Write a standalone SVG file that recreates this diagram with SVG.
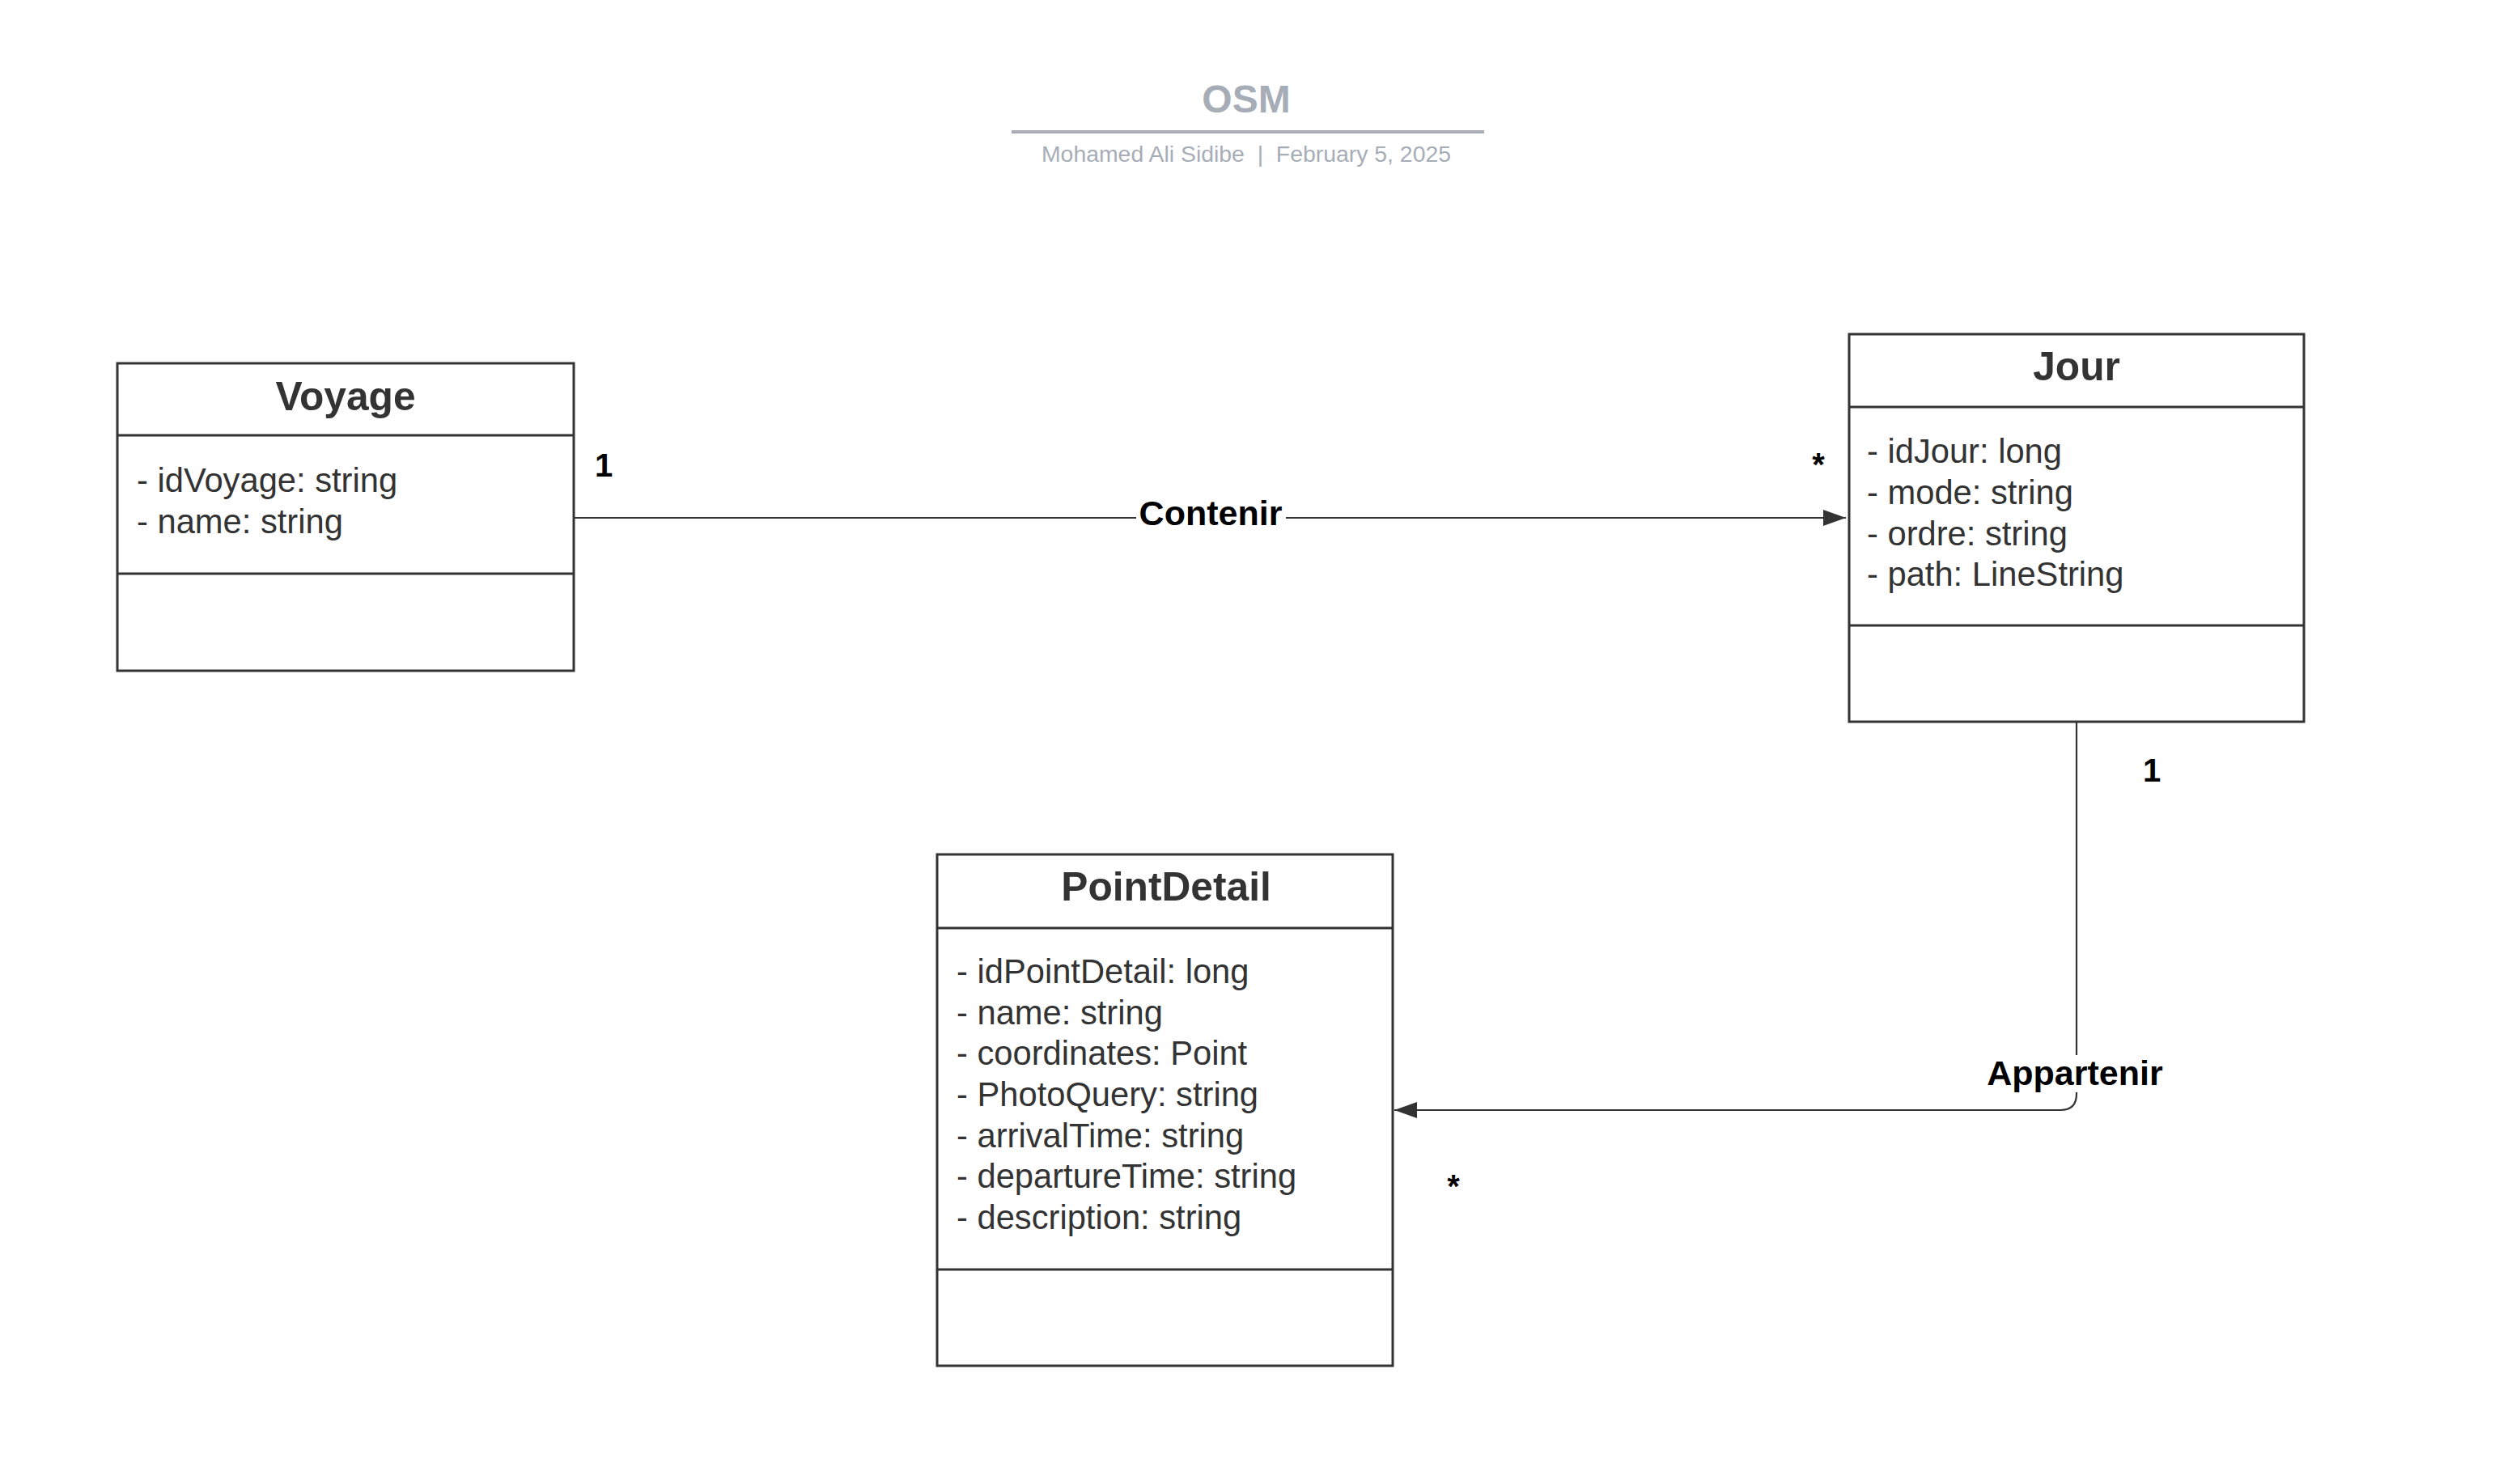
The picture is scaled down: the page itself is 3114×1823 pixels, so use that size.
<svg xmlns="http://www.w3.org/2000/svg" width="3114" height="1823" viewBox="0 0 3114 1823">
<style>
.box{fill:#ffffff;stroke:#333333;stroke-width:3}
.div{stroke:#333333;stroke-width:3}
.ttl{font-family:"Liberation Sans",Arial,sans-serif;font-weight:bold;font-size:49.7px;fill:#333333;text-anchor:middle}
.att{font-family:"Liberation Sans",Arial,sans-serif;font-size:41.7px;fill:#333333}
.conn{fill:none;stroke:#333333;stroke-width:2.2}
.lbl{font-family:"Liberation Sans",Arial,sans-serif;font-weight:bold;font-size:43px;fill:#000000;text-anchor:middle}
.mul{font-family:"Liberation Sans",Arial,sans-serif;font-weight:bold;font-size:40px;fill:#000000;text-anchor:middle}
.hdr{font-family:"Liberation Sans",Arial,sans-serif;fill:#a7adb7;text-anchor:middle}
</style>
<defs>
<marker id="arrB" viewBox="0 0 28 20" markerWidth="28" markerHeight="20" refX="28" refY="10" orient="auto" markerUnits="userSpaceOnUse">
<path d="M0,0 L28,10 L0,20 Z" fill="#333333"/>
</marker>
</defs>
<rect width="3114" height="1823" fill="#ffffff"/>
<g id="header">
<text class="hdr" x="1540" y="139" font-size="48" font-weight="bold">OSM</text>
<line x1="1250" y1="163" x2="1834" y2="163" stroke="#a7adb7" stroke-width="4"/>
<text class="hdr" x="1540" y="200" font-size="28.4" xml:space="preserve">Mohamed Ali Sidibe  |  February 5, 2025</text>
</g>
<g id="connectors">
<path class="conn" d="M709,640 L2281,640" marker-end="url(#arrB)"/>
<rect x="1404" y="612" width="185" height="46" fill="#ffffff"/>
<text class="lbl" x="1496" y="649" font-size="45">Contenir</text>
<text class="mul" x="746" y="589">1</text>
<text class="mul" x="2247" y="588">*</text>
<path class="conn" d="M2566,892 L2566,1352 Q2566,1372 2546,1372 L1723,1372" marker-end="url(#arrB)"/>
<rect x="2458" y="1304" width="212" height="46" fill="#ffffff"/>
<text class="lbl" x="2564" y="1341" font-size="42">Appartenir</text>
<text class="mul" x="2659" y="966">1</text>
<text class="mul" x="1796" y="1480">*</text>
</g>
<g id="Voyage">
<rect class="box" x="145" y="449" width="564" height="380"/>
<line class="div" x1="145" y1="538" x2="709" y2="538"/>
<line class="div" x1="145" y1="709" x2="709" y2="709"/>
<text class="ttl" x="427" y="507">Voyage</text>
<text class="att" x="169" y="608">- idVoyage: string</text>
<text class="att" x="169" y="659">- name: string</text>
</g>
<g id="Jour">
<rect class="box" x="2285" y="413" width="562" height="479"/>
<line class="div" x1="2285" y1="503" x2="2847" y2="503"/>
<line class="div" x1="2285" y1="773" x2="2847" y2="773"/>
<text class="ttl" x="2566" y="470">Jour</text>
<text class="att" x="2307" y="572">- idJour: long</text>
<text class="att" x="2307" y="623">- mode: string</text>
<text class="att" x="2307" y="674">- ordre: string</text>
<text class="att" x="2307" y="724">- path: LineString</text>
</g>
<g id="PointDetail">
<rect class="box" x="1158" y="1056" width="563" height="632"/>
<line class="div" x1="1158" y1="1147" x2="1721" y2="1147"/>
<line class="div" x1="1158" y1="1569" x2="1721" y2="1569"/>
<text class="ttl" x="1441" y="1113">PointDetail</text>
<text class="att" x="1182" y="1215">- idPointDetail: long</text>
<text class="att" x="1182" y="1266">- name: string</text>
<text class="att" x="1182" y="1316">- coordinates: Point</text>
<text class="att" x="1182" y="1367">- PhotoQuery: string</text>
<text class="att" x="1182" y="1418">- arrivalTime: string</text>
<text class="att" x="1182" y="1468">- departureTime: string</text>
<text class="att" x="1182" y="1519">- description: string</text>
</g>
</svg>
